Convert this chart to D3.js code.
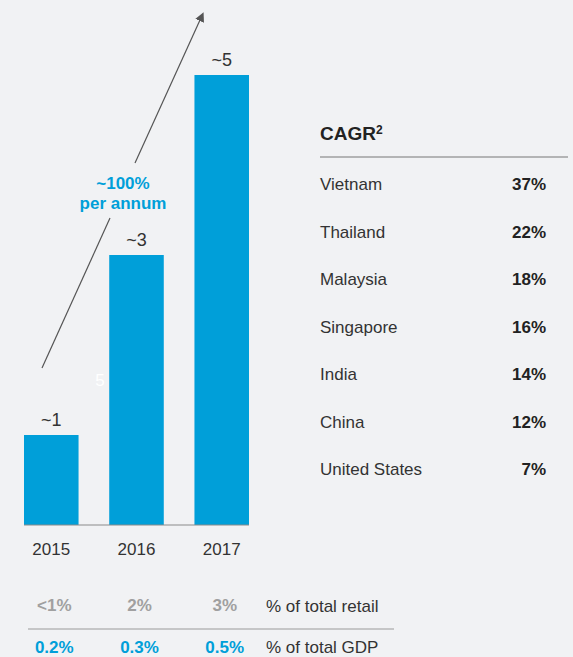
<!DOCTYPE html>
<html>
<head>
<meta charset="utf-8">
<script src="https://cdn.jsdelivr.net/npm/d3@7"></script>
<style>
  body { margin: 0; background: #f1f2f4; }
  svg { display: block; font-family: 'Liberation Sans', Arial, sans-serif; }
</style>
</head>
<body>
<div id="chart"></div>
<script>
// bar data
var years = ['2015', '2016', '2017'];
var values = [1, 3, 5];
var valueLabels = ['~1', '~3', '~5'];
var retailShare = ['<1%', '2%', '3%'];
var gdpShare = ['0.2%', '0.3%', '0.5%'];

// CAGR table
var countries = ['Vietnam', 'Thailand', 'Malaysia', 'Singapore', 'India', 'China', 'United States'];
var cagr = ['37%', '22%', '18%', '16%', '14%', '12%', '7%'];

var W = 573, H = 657;
var blue = '#009fd9', ink = '#333333';

var svg = d3.select('#chart').append('svg')
  .attr('width', W).attr('height', H);

var x = d3.scaleBand().domain(years).range([24, 249]).paddingInner(0.36).paddingOuter(0);
var y = d3.scaleLinear().domain([0, 5]).range([525, 75]);

// bars
svg.selectAll('rect.bar')
  .data(values)
  .enter().append('rect')
  .attr('class', 'bar')
  .attr('x', (d, i) => x(years[i]))
  .attr('y', d => y(d))
  .attr('width', x.bandwidth())
  .attr('height', d => y(0) - y(d))
  .attr('fill', blue);

// baseline
svg.append('line')
  .attr('x1', x.range()[0]).attr('x2', x.range()[1])
  .attr('y1', y(0)).attr('y2', y(0))
  .attr('stroke', '#8a8a8a').attr('stroke-width', 1);

// value labels
svg.selectAll('text.val')
  .data(valueLabels)
  .enter().append('text')
  .attr('x', (d, i) => x(years[i]) + x.bandwidth() / 2)
  .attr('y', (d, i) => y(values[i]) - 9)
  .attr('text-anchor', 'middle')
  .attr('font-size', 18)
  .attr('fill', ink)
  .text(d => d);

// year axis
svg.selectAll('text.year')
  .data(years)
  .enter().append('text')
  .attr('x', d => x(d) + x.bandwidth() / 2)
  .attr('y', 555)
  .attr('text-anchor', 'middle')
  .attr('font-size', 17)
  .attr('fill', ink)
  .text(d => d);

// faint ghost label
svg.append('text')
  .attr('x', 100).attr('y', 386)
  .attr('text-anchor', 'middle')
  .attr('font-size', 17)
  .attr('fill', '#ffffff')
  .text('5');

// growth arrow (two segments around the label)
var arrow = [[42, 368], [110, 218], [135, 163], [200, 20]];
svg.append('defs').append('marker')
  .attr('id', 'head')
  .attr('viewBox', '0 0 10 10')
  .attr('refX', 1).attr('refY', 5)
  .attr('markerWidth', 8).attr('markerHeight', 8)
  .attr('orient', 'auto')
  .append('path')
  .attr('d', 'M0,0L10,5L0,10Z')
  .attr('fill', '#555');

svg.append('line')
  .attr('x1', arrow[0][0]).attr('y1', arrow[0][1])
  .attr('x2', arrow[1][0]).attr('y2', arrow[1][1])
  .attr('stroke', '#555').attr('stroke-width', 1.2);
svg.append('line')
  .attr('x1', arrow[2][0]).attr('y1', arrow[2][1])
  .attr('x2', arrow[3][0]).attr('y2', arrow[3][1])
  .attr('stroke', '#555').attr('stroke-width', 1.2)
  .attr('marker-end', 'url(#head)');

svg.append('text')
  .attr('x', 123).attr('y', 189)
  .attr('text-anchor', 'middle')
  .attr('font-size', 17).attr('font-weight', 'bold')
  .attr('fill', blue)
  .text('~100%');
svg.append('text')
  .attr('x', 123).attr('y', 209)
  .attr('text-anchor', 'middle')
  .attr('font-size', 17).attr('font-weight', 'bold')
  .attr('fill', blue)
  .text('per annum');

// bottom share rows
svg.selectAll('text.retail')
  .data(retailShare)
  .enter().append('text')
  .attr('x', (d, i) => x(years[i]) + x.bandwidth() / 2 + 3)
  .attr('y', 611)
  .attr('text-anchor', 'middle')
  .attr('font-size', 17).attr('font-weight', 'bold')
  .attr('fill', '#a0a0a0')
  .text(d => d);
svg.append('text')
  .attr('x', 266).attr('y', 612)
  .attr('font-size', 17).attr('fill', ink)
  .text('% of total retail');

svg.append('line')
  .attr('x1', 28).attr('x2', 394)
  .attr('y1', 629).attr('y2', 629)
  .attr('stroke', '#9a9a9a').attr('stroke-width', 1);

svg.selectAll('text.gdp')
  .data(gdpShare)
  .enter().append('text')
  .attr('x', (d, i) => x(years[i]) + x.bandwidth() / 2 + 3)
  .attr('y', 653)
  .attr('text-anchor', 'middle')
  .attr('font-size', 17).attr('font-weight', 'bold')
  .attr('fill', blue)
  .text(d => d);
svg.append('text')
  .attr('x', 266).attr('y', 653)
  .attr('font-size', 17).attr('fill', ink)
  .text('% of total GDP');

// CAGR table
var title = svg.append('text')
  .attr('x', 320).attr('y', 140)
  .attr('font-size', 19).attr('font-weight', 'bold')
  .attr('fill', '#222');
title.append('tspan').text('CAGR');
title.append('tspan').attr('font-size', 12).attr('dy', -6).text('2');

svg.append('line')
  .attr('x1', 320).attr('x2', 568)
  .attr('y1', 157).attr('y2', 157)
  .attr('stroke', '#777').attr('stroke-width', 1);

var rowY = d3.scalePoint().domain(countries).range([190, 475]);

svg.selectAll('text.country')
  .data(countries)
  .enter().append('text')
  .attr('x', 320)
  .attr('y', d => rowY(d))
  .attr('font-size', 17)
  .attr('fill', ink)
  .text(d => d);

svg.selectAll('text.cagr')
  .data(cagr)
  .enter().append('text')
  .attr('x', 546)
  .attr('y', (d, i) => rowY(countries[i]))
  .attr('text-anchor', 'end')
  .attr('font-size', 17).attr('font-weight', 'bold')
  .attr('fill', '#222')
  .text(d => d);
</script>
</body>
</html>
